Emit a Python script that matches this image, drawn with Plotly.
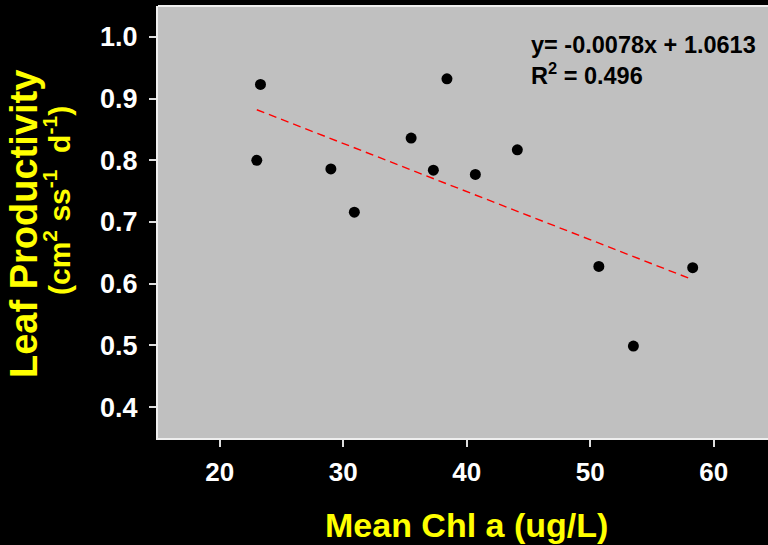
import plotly.graph_objects as go

# Data
chl_a = [23.3, 38.4, 35.5, 23.0, 29.0, 37.3, 40.7, 30.9, 44.1, 50.7, 58.3, 53.5]
leaf_prod = [0.923, 0.932, 0.836, 0.800, 0.786, 0.784, 0.777, 0.716, 0.817, 0.628, 0.626, 0.499]
slope = -0.0078
intercept = 1.0613
r_squared = 0.496
x_ticks = [20, 30, 40, 50, 60]
y_ticks = [0.4, 0.5, 0.6, 0.7, 0.8, 0.9, 1.0]

font_family = "Liberation Sans, Arial, sans-serif"

fit_x = [min(chl_a), max(chl_a)]
fit_y = [intercept + slope * v for v in fit_x]

fig = go.Figure()
fig.add_trace(go.Scatter(
    x=fit_x, y=fit_y, mode="lines",
    line=dict(color="#FF0000", width=1.4, dash="8px,5px"),
    hoverinfo="skip", showlegend=False,
))
fig.add_trace(go.Scatter(
    x=chl_a, y=leaf_prod, mode="markers",
    marker=dict(color="black", size=11, line=dict(width=0)),
    showlegend=False,
))

fig.update_layout(
    width=768, height=545,
    margin=dict(l=158, r=0, t=6, b=107),
    paper_bgcolor="black",
    plot_bgcolor="#C0C0C0",
    font=dict(family=font_family),
    showlegend=False,
)

fig.update_xaxes(
    range=[15, 64.4], tickvals=x_ticks, ticktext=[str(v) for v in x_ticks],
    showgrid=False, zeroline=False,
    showline=True, linecolor="#EEEEEE", linewidth=2,
    ticks="outside", ticklen=7, tickwidth=1.5, tickcolor="#DDDDDD",
    tickfont=dict(family=font_family, size=26, color="white", weight="bold"),
    ticklabelstandoff=3,
)
fig.update_yaxes(
    range=[0.35, 1.05], tickvals=y_ticks, ticktext=[f"{v:.1f}" for v in y_ticks],
    showgrid=False, zeroline=False,
    showline=True, linecolor="#EEEEEE", linewidth=2,
    ticks="outside", ticklen=7, tickwidth=1.5, tickcolor="#DDDDDD",
    tickfont=dict(family=font_family, size=27, color="white", weight="bold"),
    ticklabelstandoff=6,
)

# top border of plot area
fig.add_shape(type="line", xref="paper", yref="paper", x0=0, x1=1, y0=1, y1=1,
              line=dict(color="#EEEEEE", width=2))

# axis titles as annotations
fig.add_annotation(
    text="Mean Chl a (ug/L)", xref="paper", yref="paper",
    x=(466 - 158) / 610, y=-(525 - 438) / 432, xanchor="center", yanchor="middle",
    showarrow=False,
    font=dict(family=font_family, size=34, color="#FFFF00", weight="bold"),
)
fig.add_annotation(
    text="Leaf Productivity", xref="paper", yref="paper",
    x=-(158 - 24) / 610, y=1 - (224 - 6) / 432, xanchor="center", yanchor="middle",
    textangle=-90, showarrow=False,
    font=dict(family=font_family, size=38, color="#FFFF00", weight="bold"),
)
fig.add_annotation(
    text="(cm<sup>2</sup> ss<sup>-1</sup>  d<sup>-1</sup>)", xref="paper", yref="paper",
    x=-(158 - 57) / 610, y=1 - (201 - 6) / 432, xanchor="center", yanchor="middle",
    textangle=-90, showarrow=False,
    font=dict(family=font_family, size=30, color="#FFFF00", weight="bold"),
)

# regression equation
fig.add_annotation(
    text=f"y= {slope:.4f}x + {intercept:.4f}<br>R<sup>2</sup> = {r_squared:.3f}",
    xref="paper", yref="paper",
    x=(529 - 158) / 610, y=1 - (30 - 6) / 432, xanchor="left", yanchor="top",
    align="left", showarrow=False,
    font=dict(family=font_family, size=23.5, color="black", weight="bold"),
)

fig.write_html("out.html")
